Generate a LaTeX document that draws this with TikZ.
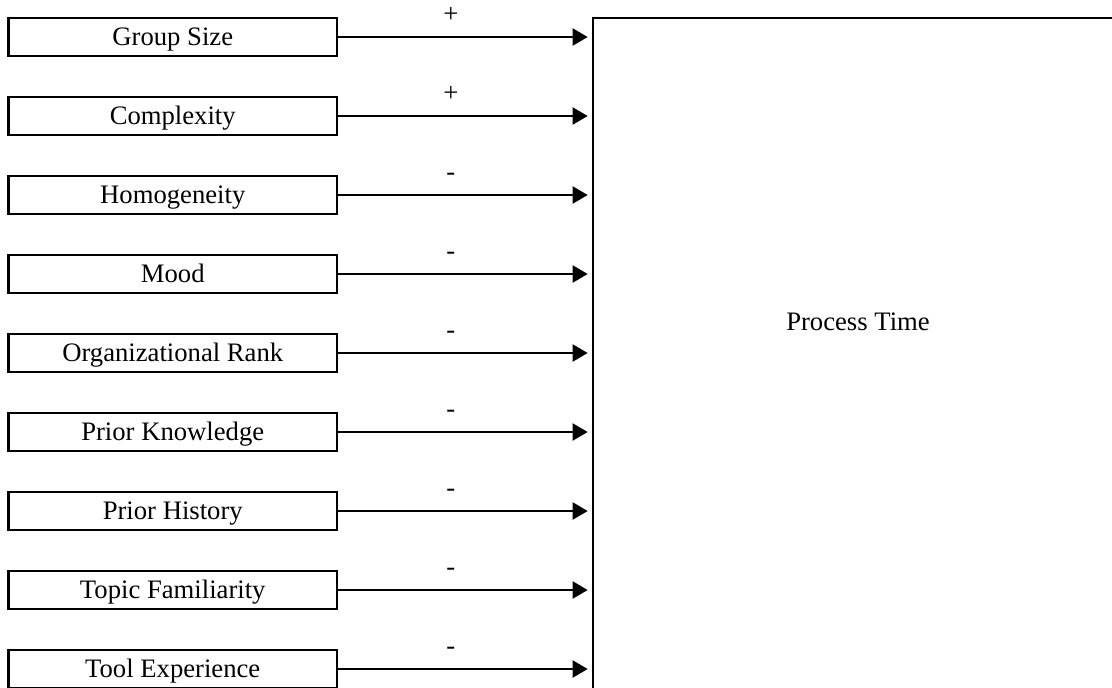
\documentclass[tikz,border=0pt]{standalone}
\usepackage{fontspec}
\setmainfont{Liberation Serif}
\usetikzlibrary{arrows.meta}
\begin{document}
\begin{tikzpicture}[x=0.75pt,y=-0.75pt,
  txt/.style={font=\fontsize{20}{24}\selectfont},
  factor/.style={txt, draw, line width=1.8pt, outer sep=0pt, inner sep=0pt,
    text height=13.2pt, text depth=0pt,
    minimum width=246.4pt, minimum height=28.5pt},
  outcome/.style={draw, line width=1.8pt, outer sep=0pt, anchor=north west,
    minimum width=450pt, minimum height=525pt},
  link/.style={line width=1.6pt, shorten >=4pt,
    -{Triangle[length=11.25pt, width=12.75pt]}},
  sign/.style={txt, anchor=base, inner sep=0pt, yshift=11pt}]
  \useasboundingbox (0,0) rectangle (1112,687);

  % outcome box, running off the right and bottom edges
  \node[outcome] (pt) at (593,18) {};
  \node[txt] (ptlabel) at (858,322) {Process Time};

  % factors with their signed effects on process time
  \foreach \name/\sgn [count=\i from 0] in {
      Group Size/+, Complexity/+, Homogeneity/-, Mood/-,
      Organizational Rank/-, Prior Knowledge/-, Prior History/-,
      Topic Familiarity/-, Tool Experience/-}
  {
    \node[factor] (f\i) at (172.75,{37+79*\i}) {\name};
    \draw[link] (f\i.east) -- (f\i.east -| pt.west)
      node[sign, pos=0.445] {\sgn};
  }
\end{tikzpicture}
\end{document}
